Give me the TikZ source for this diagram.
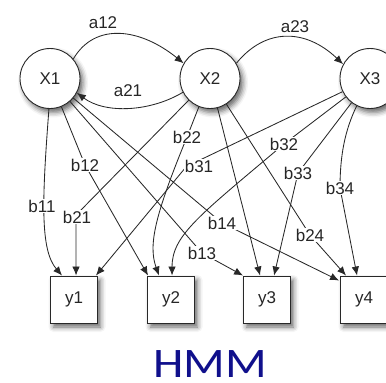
\documentclass[tikz,border=0pt]{standalone}
\usepackage{fontspec}
\setmainfont{Liberation Sans}
\newfontfamily\hmmfont{Carlito}
\usetikzlibrary{arrows.meta,calc,shadows.blur}
\definecolor{edgegray}{RGB}{40,40,40}
\definecolor{hmmblue}{RGB}{16,16,140}

\begin{document}
\begin{tikzpicture}[x=1pt,y=-1pt,
  every node/.style={font=\fontsize{17}{20}\selectfont, text=black!85},
  softshadow/.style={blur shadow={shadow xshift=3pt, shadow yshift=-4pt,
      shadow blur radius=5pt, shadow opacity=60}},
  state/.style={circle, draw=edgegray, line width=0.9pt, minimum size=60pt,
      inner sep=0pt, fill=white, softshadow},
  obs/.style={rectangle, draw=edgegray, line width=0.9pt, minimum size=47pt,
      inner sep=0pt, fill=white, softshadow},
  lab/.style={fill=white, inner sep=1pt},
  link/.style={draw=edgegray, line width=0.85pt, -{Latex[length=9pt,width=7.5pt]}},
]
\useasboundingbox (0,0) rectangle (386,383);

% hidden states
\node[state] (X1) at (50,78.5) {X1};
\node[state] (X2) at (210,78.5) {X2};
\node[state] (X3) at (370,78.5) {X3};

% observations
\node[obs] (y1) at (74,299.5) {y1};
\node[obs] (y2) at (171,299.5) {y2};
\node[obs] (y3) at (267,299.5) {y3};
\node[obs] (y4) at (364,299.5) {y4};

% label positions on the emission arcs
\coordinate (p11) at (42,206);
\coordinate (p12) at (85,165);
\coordinate (p13) at (202,253);
\coordinate (p14) at (222,223);
\coordinate (p21) at (77,217);
\coordinate (p22) at (187,137);
\coordinate (p24) at (310,235);
\coordinate (p31) at (199,166);
\coordinate (p32) at (284,144);
\coordinate (p33) at (298,173);
\coordinate (p34) at (340,188);

% transitions
\draw[link] (X1.40) .. controls (95,22) and (140,28) .. (X2.150);
\draw[link] (X2.207) .. controls (150,112) and (105,114) .. (X1.-28);
\draw[link] (X2.30) .. controls (265,28) and (305,28) .. (X3.152);

% emissions from X1
\draw[link] (X1.268) .. controls (42,200) and (40,250) .. ($(y1.north west)+(12,0)$);
\draw[link] (X1) -- (p12) -- ($(y2.north west)+(1,0)$);
\draw[link] (X1) -- (p13) -- (y3.north west);
\draw[link] (X1) -- (p14) -- ($(y4.north west)+(-1,5)$);

% emissions from X2
\draw[link] (X2) -- (80,211) -- (76,222) -- ($(y1.north west)+(26,0)$);
\draw[link] (X2) -- (p22) .. controls (155,215) and (148,245) .. ($(y2.north west)+(12,0)$);
\draw[link] (X2) -- ($(y3.north west)+(17,0)$);
\draw[link] (X2) -- (p24) -- ($(y4.north west)+(6,0)$);

% emissions from X3
\draw[link] (X3) -- (200,160) -- (186,167) -- ($(y1.north east)+(-2,0)$);
\draw[link] (X3) -- (p32) .. controls (200,215) and (172,235) .. ($(y2.north west)+(25,0)$);
\draw[link] (X3) -- (p33) -- ($(y3.north west)+(31,0)$);
\draw[link] (X3) .. controls (345,130) and (340,155) .. (p34) -- ($(y4.north west)+(17,0)$);

% transition labels
\node at (103,23) {a12};
\node at (128,91) {a21};
\node at (295,27) {a23};

% emission labels
\node[lab] at (p11) {b11};
\node[lab] at (p12) {b12};
\node[lab] at (p13) {b13};
\node[lab] at (p14) {b14};
\node[lab] at (p21) {b21};
\node[lab] at (p22) {b22};
\node[lab] at (p24) {b24};
\node[lab] at (p31) {b31};
\node[lab] at (p32) {b32};
\node[lab] at (p33) {b33};
\node[lab] at (p34) {b34};

% title
\node[text=hmmblue, inner sep=0pt, font=\hmmfont\fontsize{42}{44}\selectfont] (title)
  at (210,364) {\scalebox{1.16}[1]{HMM}};
\end{tikzpicture}
\end{document}
